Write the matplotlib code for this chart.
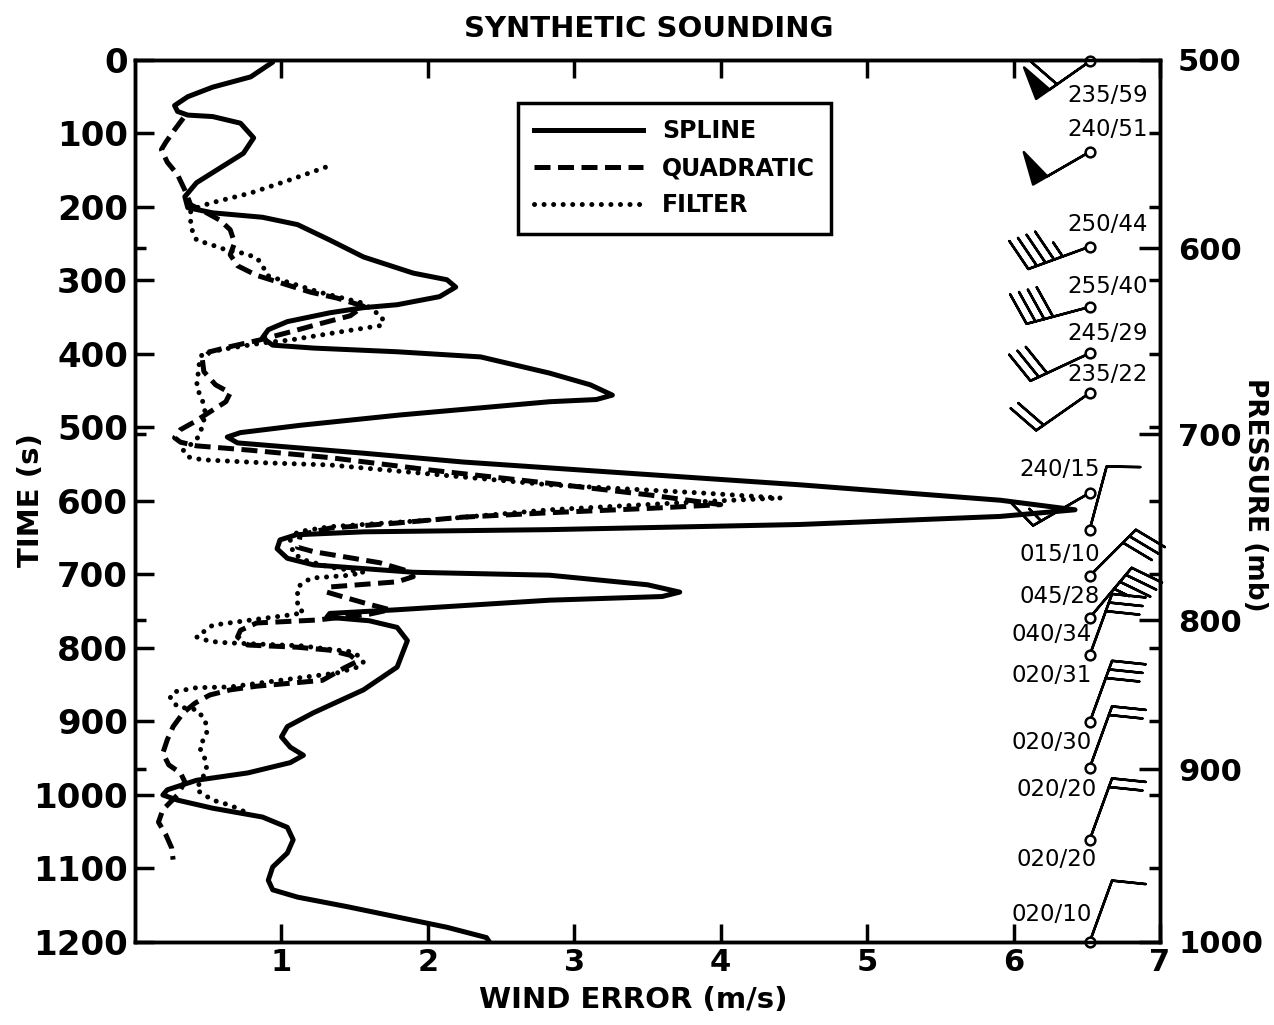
#!/usr/bin/env python3
"""Synthetic sounding: wind error of spline / quadratic / filter fits vs time."""
import numpy as np
import matplotlib
matplotlib.use("Agg")
import matplotlib.pyplot as plt
from matplotlib.lines import Line2D

# wind error (m/s) along each curve, with the matching time (s)
spline_time = [3, 23, 37, 50, 62, 70, 75, 77, 86, 106, 127, 147, 167, 186, 201, 208, 214, 224, 245, 268,
               290, 299, 309, 322, 333, 337, 344, 356, 367, 378, 388, 392, 397, 404, 426, 442, 456, 462, 465, 483,
               497, 507, 513, 521, 535, 547, 555, 578, 599, 612, 621, 632, 639, 642, 646, 653, 665, 678, 687, 697,
               701, 714, 724, 730, 735, 748, 753, 758, 763, 772, 790, 826, 857, 888, 907, 921, 935, 946, 956, 970,
               980, 993, 1000, 1007, 1018, 1030, 1044, 1061, 1079, 1098, 1116, 1129, 1139, 1152, 1166, 1180, 1194, 1200]
spline_err = [0.94, 0.79, 0.53, 0.36, 0.27, 0.29, 0.36, 0.53, 0.72, 0.81, 0.74, 0.58, 0.42, 0.34, 0.36, 0.53, 0.87, 1.11, 1.33, 1.56,
              1.90, 2.13, 2.19, 2.08, 1.79, 1.56, 1.33, 1.04, 0.91, 0.87, 0.94, 1.22, 1.79, 2.36, 2.83, 3.11, 3.26, 3.15, 2.83, 1.81,
              1.13, 0.72, 0.63, 0.70, 1.56, 2.24, 2.83, 4.54, 5.91, 6.42, 5.91, 4.54, 2.83, 1.56, 1.10, 0.99, 0.97, 1.04, 1.22, 1.90,
              2.83, 3.50, 3.72, 3.60, 2.83, 1.79, 1.33, 1.31, 1.60, 1.79, 1.86, 1.79, 1.56, 1.22, 1.04, 1.00, 1.06, 1.15, 1.06, 0.77,
              0.42, 0.22, 0.19, 0.29, 0.53, 0.87, 1.04, 1.08, 1.04, 0.94, 0.91, 0.94, 1.11, 1.45, 1.79, 2.13, 2.40, 2.42]

quad_time = [79, 95, 112, 122, 139, 156, 177, 197, 207, 218, 231, 249, 265, 280, 293, 303, 316, 324, 335, 348,
             359, 370, 381, 390, 397, 408, 424, 442, 453, 465, 479, 493, 503, 514, 520, 525, 531, 541, 558, 576,
             592, 605, 610, 616, 622, 630, 637, 646, 663, 669, 684, 694, 703, 710, 717, 724, 731, 739, 748, 754,
             762, 766, 776, 785, 796, 799, 803, 810, 818, 827, 844, 848, 852, 857, 864, 875, 888, 907, 925, 943,
             959, 970, 982, 1000, 1020, 1037, 1054, 1072, 1088]
quad_err = [0.33, 0.27, 0.21, 0.18, 0.22, 0.29, 0.34, 0.38, 0.48, 0.58, 0.65, 0.68, 0.65, 0.70, 0.83, 0.99, 1.20, 1.38, 1.56, 1.47,
            1.26, 1.06, 0.85, 0.65, 0.51, 0.46, 0.47, 0.55, 0.65, 0.62, 0.51, 0.40, 0.31, 0.27, 0.31, 0.42, 0.79, 1.33, 2.02, 2.83,
            3.52, 4.00, 3.52, 2.83, 2.24, 1.79, 1.33, 1.13, 1.11, 1.22, 1.67, 1.84, 1.90, 1.79, 1.33, 1.31, 1.43, 1.57, 1.74, 1.60,
            1.24, 0.83, 0.72, 0.70, 0.77, 1.11, 1.33, 1.47, 1.52, 1.43, 1.28, 1.06, 0.83, 0.65, 0.51, 0.41, 0.33, 0.26, 0.22, 0.19,
            0.23, 0.31, 0.34, 0.29, 0.19, 0.16, 0.21, 0.25, 0.26]

filt_time = [146, 163, 181, 195, 204, 227, 245, 252, 259, 263, 269, 279, 293, 299, 316, 331, 350, 361, 370, 381,
             385, 392, 399, 411, 445, 463, 480, 499, 517, 531, 540, 544, 548, 551, 578, 589, 596, 601, 612, 626,
             635, 642, 653, 671, 680, 690, 697, 701, 705, 717, 744, 752, 755, 762, 769, 785, 791, 793, 797, 805,
             812, 820, 826, 834, 844, 853, 854, 860, 868, 880, 884, 898, 916, 935, 952, 966, 984, 993, 1007, 1014,
             1022]
filt_err = [1.30, 1.06, 0.79, 0.51, 0.38, 0.38, 0.42, 0.53, 0.63, 0.74, 0.83, 0.87, 0.90, 0.99, 1.26, 1.56, 1.69, 1.69, 1.40, 1.06,
            0.87, 0.65, 0.46, 0.44, 0.42, 0.46, 0.48, 0.46, 0.42, 0.33, 0.36, 0.46, 0.87, 1.33, 2.83, 3.86, 4.41, 3.86, 2.83, 2.02,
            1.33, 1.11, 1.06, 1.08, 1.15, 1.33, 1.56, 1.47, 1.20, 1.11, 1.11, 1.15, 1.06, 0.79, 0.53, 0.42, 0.51, 0.63, 1.13, 1.47,
            1.54, 1.56, 1.52, 1.38, 0.99, 0.65, 0.42, 0.26, 0.24, 0.29, 0.42, 0.48, 0.49, 0.44, 0.48, 0.49, 0.44, 0.42, 0.53, 0.65,
            0.74]

# pressure levels (mb) and the time (s) where they fall
pres_levels = [500, 600, 700, 800, 900, 1000]
pres_time = [0, 256, 509, 762, 965, 1200]

# wind observations: time (s), direction (deg), speed (kt)
wind_time = [2, 125, 254, 336, 399, 453, 589, 639, 702, 759, 810, 901, 963, 1061, 1200]
wind_dir = [235, 240, 250, 255, 245, 235, 240, 15, 45, 40, 20, 20, 20, 20, 20]
wind_spd = [59, 51, 44, 40, 29, 22, 15, 10, 28, 34, 31, 30, 20, 20, 10]

BARB_X = 6.52
# label offsets from the station circle, pixels (right edge of text)
label_off = [(58, -34), (58, 22), (58, 22), (58, 20), (58, 20), (58, 18), (10, 23),
             (10, -25), (10, -21), (2, -17), (2, -20), (2, -20), (7, -22), (7, -20), (2, 27)]

BOLD = dict(family="DejaVu Sans", fontweight="bold")

fig = plt.figure(figsize=(12.74, 10.25), dpi=100)
ax = fig.add_axes([0.106, 0.081, 0.8045, 0.8605])

lw = 3.6
dashed = (0, (3.2, 1.5))
dotted = (0, (0.01, 1.9))
ax.plot(spline_err, spline_time, color="black", lw=lw, solid_joinstyle="round",
        solid_capstyle="round")
ax.plot(quad_err, quad_time, color="black", lw=lw, linestyle=dashed,
        dash_capstyle="butt", dash_joinstyle="round")
ax.plot(filt_err, filt_time, color="black", lw=lw, linestyle=dotted,
        dash_capstyle="round")

# wind barbs
d = np.radians(wind_dir)
spd = np.array(wind_spd, dtype=float)
u = -spd * np.sin(d)
v = -spd * np.cos(d)
bx = np.full(len(wind_time), BARB_X)
ax.barbs(bx, wind_time, u, v, length=9.7, linewidth=1.8, color="black",
         sizes=dict(height=0.5, spacing=0.14), clip_on=False, zorder=5)
ax.plot(bx, wind_time, "o", ms=7, mfc="white", mec="black", mew=1.8,
        clip_on=False, zorder=6)
for t, dd, ss, off in zip(wind_time, wind_dir, wind_spd, label_off):
    ax.annotate(f"{dd:03d}/{ss:02d}", (BARB_X, t), xytext=off, textcoords="offset pixels",
                ha="right", va="center", fontsize=16.5, family="DejaVu Sans", zorder=7)

ax.set_xlim(0, 7)
ax.set_ylim(1200, 0)
ax.set_xticks(range(1, 8))
ax.set_xticklabels([str(i) for i in range(1, 8)], **BOLD)
ax.set_yticks(range(0, 1201, 100))
ax.set_yticklabels([str(i) for i in range(0, 1201, 100)], **BOLD)
ax.set_yticks(pres_time[1:-1], minor=True)
ax.tick_params(axis="x", which="major", direction="in", length=13, width=2.5,
               top=True, labelsize=22, pad=4)
ax.tick_params(axis="y", which="major", direction="in", length=14, width=2.5,
               right=False, labelsize=24.5, pad=5)
ax.tick_params(axis="y", which="minor", direction="in", length=8, width=2.5, right=False)
for s in ax.spines.values():
    s.set_linewidth(2.5)

ax2 = ax.twinx()
ax2.set_ylim(1200, 0)
ax2.set_yticks(pres_time)
ax2.set_yticklabels([str(p) for p in pres_levels], **BOLD)
ax2.set_yticks(range(100, 1200, 100), minor=True)
ax2.tick_params(axis="y", which="major", direction="in", length=15, width=2.5,
                labelsize=22, pad=13)
ax2.tick_params(axis="y", which="minor", direction="in", length=8, width=2.5)
for s in ax2.spines.values():
    s.set_linewidth(2.5)

handles = [Line2D([], [], color="black", lw=lw),
           Line2D([], [], color="black", lw=lw, linestyle=dashed),
           Line2D([], [], color="black", lw=lw, linestyle=dotted, dash_capstyle="round")]
leg = ax.legend(handles, ["SPLINE", "QUADRATIC", "FILTER"], loc="upper left",
                bbox_to_anchor=(0.362, 0.965), frameon=True, fancybox=False, framealpha=1,
                handlelength=4.6, handletextpad=0.8, labelspacing=0.55, borderpad=0.7,
                prop=dict(family="DejaVu Sans", weight="bold", size=17))
leg.get_frame().set_edgecolor("black")
leg.get_frame().set_linewidth(2.5)

fig.text(0.509, 0.972, "SYNTHETIC SOUNDING", ha="center", va="center", fontsize=21, **BOLD)
fig.text(0.497, 0.024, "WIND ERROR (m/s)", ha="center", va="center", fontsize=21, **BOLD)
fig.text(0.024, 0.512, "TIME (s)", ha="center", va="center", rotation=90, fontsize=21, **BOLD)
fig.text(0.985, 0.517, "PRESSURE (mb)", ha="center", va="center", rotation=270, fontsize=19, **BOLD)

fig.savefig("out.png", dpi=100)
